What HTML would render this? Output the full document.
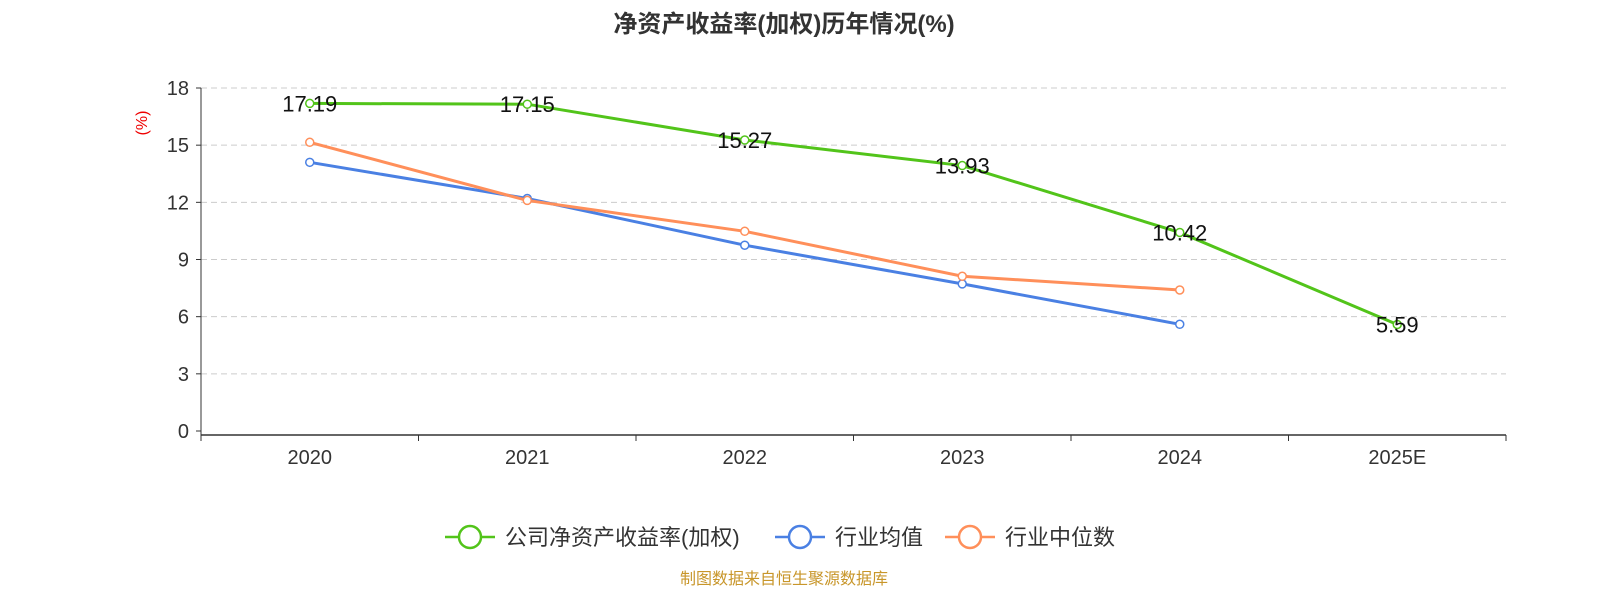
<!DOCTYPE html>
<html><head><meta charset="utf-8"><style>
body{margin:0;width:1600px;height:600px;background:#fff;overflow:hidden;font-family:"Liberation Sans","Noto Sans CJK SC",sans-serif}
</style></head><body>
<svg id="c" width="1600" height="600" xmlns="http://www.w3.org/2000/svg"></svg>
<script>
const categories=["2020","2021","2022","2023","2024","2025E"];
const companyValues=[17.19,17.15,15.27,13.93,10.42,5.59];
const avgValues=[14.1,12.2,9.75,7.72,5.6];
const medianValues=[15.15,12.1,10.48,8.12,7.4];
const yTicks=[0,3,6,9,12,15,18];
const seriesNames=["公司净资产收益率(加权)","行业均值","行业中位数"];
const colors=["#52c41a","#4a80e3","#ff8f5a"];
const NS="http://www.w3.org/2000/svg";
const svg=document.getElementById('c');
const x0=201,x1=1506,y0=431,yTop=88;
const band=(x1-x0)/categories.length;
const xs=i=>x0+band*(i+0.5);
const ys=v=>y0-(v/18)*(y0-yTop);
function mk(t,a,p){const e=document.createElementNS(NS,t);for(const k in a)e.setAttribute(k,a[k]);(p||svg).appendChild(e);return e;}
let t=mk('text',{x:784,y:32,'text-anchor':'middle','font-size':24,'font-weight':'bold',fill:'#333'});t.textContent="净资产收益率(加权)历年情况(%)";

t=mk('text',{x:147,y:123,'text-anchor':'middle','font-size':16,fill:'#e00',transform:'rotate(-90 147 123)'});t.textContent="(%)";

yTicks.forEach(v=>{const y=ys(v);
 if(v>0){const g=mk('line',{x1:x0,x2:x1,y1:y,y2:y,stroke:'#ccc','stroke-dasharray':'6,4'});}
 mk('line',{x1:x0-5,x2:x0,y1:y,y2:y,stroke:'#333'});
 const l=mk('text',{x:x0-12,y:y+7,'text-anchor':'end','font-size':20,fill:'#333'});l.textContent=v;
 });
mk('line',{x1:x0,x2:x0,y1:yTop,y2:y0+4,stroke:'#333'});
mk('line',{x1:x0,x2:x1,y1:y0+4,y2:y0+4,stroke:'#333','stroke-width':1.5});
for(let i=0;i<=categories.length;i++)mk('line',{x1:x0+band*i,x2:x0+band*i,y1:y0+4,y2:y0+10,stroke:'#333'});
categories.forEach((c,i)=>{const l=mk('text',{x:xs(i),y:464,'text-anchor':'middle','font-size':20,fill:'#333'});l.textContent=c;
 });
function series(vals,col,name,labels){
 const p=mk('polyline',{points:vals.map((v,i)=>xs(i)+','+ys(v)).join(' '),fill:'none',stroke:col,'stroke-width':3});
 
 vals.forEach((v,i)=>{const c=mk('circle',{cx:xs(i),cy:ys(v),r:4,fill:'#fff',stroke:col,'stroke-width':1.5});
  
  if(labels){const l=mk('text',{x:xs(i),y:ys(v)+8,'text-anchor':'middle','font-size':22,fill:'#111'});l.textContent=v.toFixed(2);
   }});
}
series(avgValues,colors[1],'industry-average',false);
series(medianValues,colors[2],'industry-median',false);
series(companyValues,colors[0],'company-roe',true);
const lx=[445,775,945];
seriesNames.forEach((n,i)=>{const g=mk('g',{});
 mk('line',{x1:lx[i],x2:lx[i]+50,y1:537,y2:537,stroke:colors[i],'stroke-width':2.5},g);
 mk('circle',{cx:lx[i]+25,cy:537,r:11,fill:'#fff',stroke:colors[i],'stroke-width':2.5},g);
 const l=mk('text',{x:lx[i]+60,y:545,'font-size':22,fill:'#333'},g);l.textContent=n;});
t=mk('text',{x:784,y:584,'text-anchor':'middle','font-size':16,fill:'#c8962a'});t.textContent="制图数据来自恒生聚源数据库";

</script>
</body></html>
